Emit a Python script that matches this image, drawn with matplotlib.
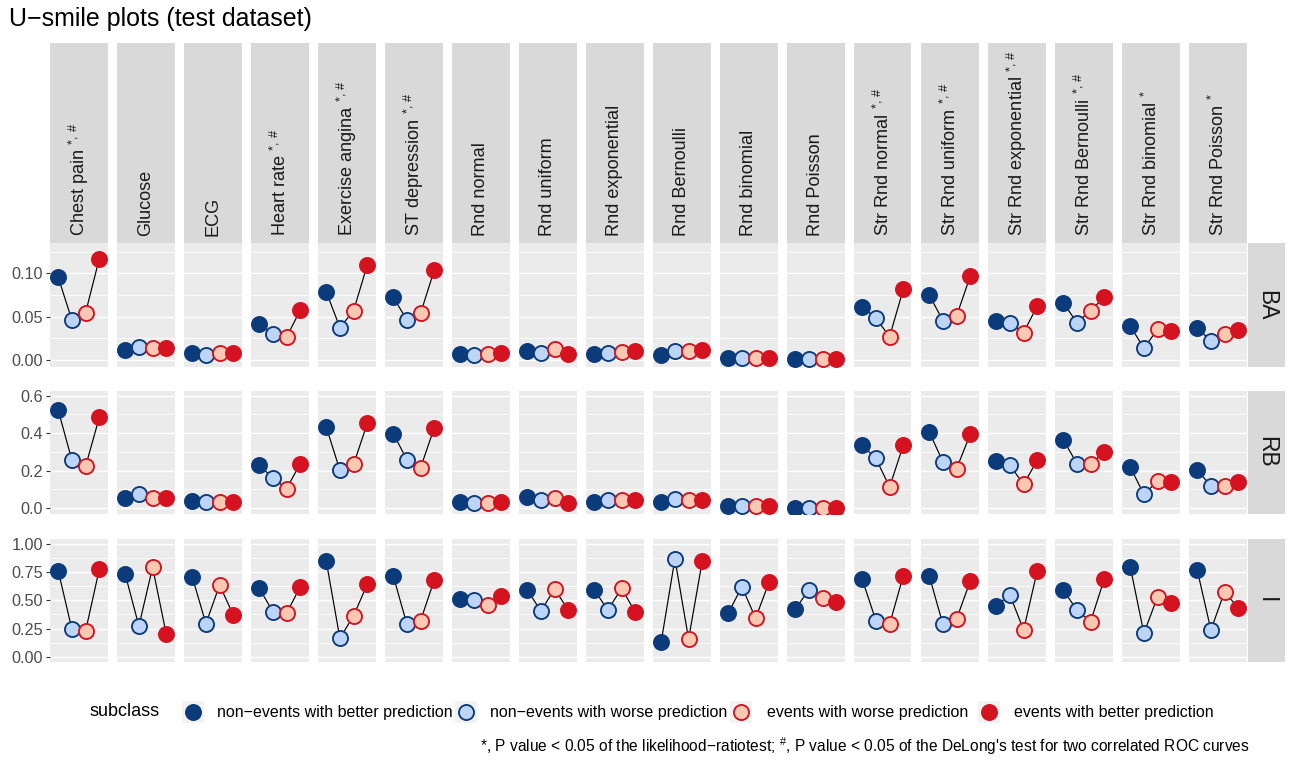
import matplotlib
matplotlib.use("Agg")
import matplotlib.pyplot as plt

plt.rcParams['font.family'] = ['Liberation Sans', 'DejaVu Sans']
plt.rcParams['mathtext.fontset'] = 'custom'
plt.rcParams['mathtext.rm'] = 'Liberation Sans'
plt.rcParams['mathtext.it'] = 'Liberation Sans:italic'
plt.rcParams['mathtext.bf'] = 'Liberation Sans:bold'

# ---- data -------------------------------------------------------------
variables = ["Chest pain", "Glucose", "ECG", "Heart rate", "Exercise angina",
             "ST depression", "Rnd normal", "Rnd uniform", "Rnd exponential",
             "Rnd Bernoulli", "Rnd binomial", "Rnd Poisson", "Str Rnd normal",
             "Str Rnd uniform", "Str Rnd exponential", "Str Rnd Bernoulli",
             "Str Rnd binomial", "Str Rnd Poisson"]
# significance marks: "*" likelihood-ratio test, "#" DeLong's test
significance = ["*,#", "", "", "*,#", "*,#", "*,#", "", "", "", "", "", "",
                "*,#", "*,#", "*,#", "*,#", "*", "*"]

subclasses = ["non\u2212events with better prediction",
              "non\u2212events with worse prediction",
              "events with worse prediction",
              "events with better prediction"]

# each row: [non-events better, non-events worse, events worse, events better]
ba_values = [
    [0.0955, 0.0460, 0.0546, 0.1170],
    [0.0115, 0.0146, 0.0135, 0.0135],
    [0.0077, 0.0058, 0.0085, 0.0085],
    [0.0416, 0.0296, 0.0262, 0.0577],
    [0.0789, 0.0373, 0.0570, 0.1097],
    [0.0724, 0.0462, 0.0539, 0.1039],
    [0.0066, 0.0058, 0.0070, 0.0077],
    [0.0108, 0.0077, 0.0131, 0.0070],
    [0.0070, 0.0085, 0.0092, 0.0108],
    [0.0058, 0.0100, 0.0108, 0.0116],
    [0.0020, 0.0020, 0.0018, 0.0020],
    [0.0012, 0.0012, 0.0010, 0.0012],
    [0.0616, 0.0481, 0.0269, 0.0816],
    [0.0751, 0.0454, 0.0508, 0.0970],
    [0.0454, 0.0424, 0.0316, 0.0624],
    [0.0662, 0.0431, 0.0570, 0.0724],
    [0.0393, 0.0135, 0.0354, 0.0339],
    [0.0366, 0.0223, 0.0300, 0.0347],
]
rb_values = [
    [0.523, 0.256, 0.223, 0.484],
    [0.056, 0.073, 0.056, 0.052],
    [0.038, 0.032, 0.034, 0.034],
    [0.229, 0.161, 0.104, 0.238],
    [0.434, 0.202, 0.234, 0.452],
    [0.398, 0.259, 0.216, 0.429],
    [0.032, 0.027, 0.027, 0.032],
    [0.059, 0.041, 0.056, 0.027],
    [0.032, 0.045, 0.041, 0.045],
    [0.032, 0.050, 0.045, 0.045],
    [0.009, 0.009, 0.009, 0.009],
    [0.002, 0.002, 0.002, 0.002],
    [0.336, 0.265, 0.113, 0.336],
    [0.407, 0.247, 0.211, 0.395],
    [0.252, 0.229, 0.127, 0.256],
    [0.366, 0.238, 0.234, 0.300],
    [0.220, 0.073, 0.145, 0.139],
    [0.204, 0.118, 0.120, 0.140],
]
i_values = [
    [0.763, 0.243, 0.228, 0.775],
    [0.731, 0.272, 0.793, 0.199],
    [0.710, 0.293, 0.636, 0.370],
    [0.607, 0.400, 0.385, 0.621],
    [0.849, 0.163, 0.364, 0.642],
    [0.719, 0.287, 0.320, 0.681],
    [0.512, 0.500, 0.459, 0.541],
    [0.592, 0.405, 0.601, 0.414],
    [0.592, 0.414, 0.607, 0.394],
    [0.133, 0.867, 0.157, 0.849],
    [0.385, 0.621, 0.341, 0.666],
    [0.423, 0.592, 0.518, 0.488],
    [0.687, 0.320, 0.287, 0.719],
    [0.719, 0.287, 0.335, 0.672],
    [0.453, 0.548, 0.237, 0.763],
    [0.592, 0.414, 0.311, 0.690],
    [0.799, 0.207, 0.533, 0.474],
    [0.770, 0.237, 0.577, 0.430],
]
metrics = ["BA", "RB", "I"]
metric_values = [ba_values, rb_values, i_values]

# ---- styling ----------------------------------------------------------
NAVY = "#0B3B7B"
LIGHTBLUE = "#BCD4F5"
PINK = "#F8C8B2"
RED = "#D5121F"
fills = [NAVY, LIGHTBLUE, PINK, RED]
edges = [NAVY, NAVY, RED, RED]

PANEL_BG = "#EBEBEB"
STRIP_BG = "#D9D9D9"

row_limits = [(-0.0082, 0.1351), (-0.0284, 0.625), (-0.047, 1.044)]
row_major = [[0.0, 0.05, 0.10], [0.0, 0.2, 0.4, 0.6],
             [0.0, 0.25, 0.5, 0.75, 1.0]]
row_minor = [[0.025, 0.075, 0.125], [0.1, 0.3, 0.5],
             [0.125, 0.375, 0.625, 0.875]]
row_fmt = ["{:.2f}", "{:.1f}", "{:.2f}"]

W, H = 1290, 768
fig = plt.figure(figsize=(W / 100, H / 100), dpi=100)


def px_axes(x0, y0, w, h):
    return fig.add_axes([x0 / W, 1 - (y0 + h) / H, w / W, h / H])


col_left0, col_step, col_w = 50.0, 67.0, 57.5
rows_px = [(243, 367), (391, 513.5), (539, 662)]
strip_top, strip_bot = 42.5, 243

marker_s = 118
x_pos = [1, 2, 3, 4]

for r, (metric, vals) in enumerate(zip(metrics, metric_values)):
    y0, y1 = rows_px[r]
    for c in range(len(variables)):
        ax = px_axes(col_left0 + c * col_step, y0, col_w, y1 - y0)
        ax.set_facecolor(PANEL_BG)
        for s in ax.spines.values():
            s.set_visible(False)
        ax.set_xlim(0.4, 4.6)
        ax.set_ylim(*row_limits[r])
        ax.set_xticks([])
        ax.set_yticks(row_major[r])
        ax.set_yticks(row_minor[r], minor=True)
        ax.grid(True, which="major", axis="y", color="white", lw=1.05)
        ax.grid(True, which="minor", axis="y", color="white", lw=0.55)
        ax.set_axisbelow(True)
        ax.tick_params(axis="y", which="minor", length=0)
        if c == 0:
            ax.set_yticklabels([row_fmt[r].format(v) for v in row_major[r]])
            ax.tick_params(axis="y", which="major", length=3.2, width=0.8,
                           color="#333333", labelcolor="#4D4D4D",
                           labelsize=11.7, pad=2)
        else:
            ax.tick_params(axis="y", which="major", length=0,
                           labelleft=False)
        ys = vals[c]
        ax.plot(x_pos, ys, color="black", lw=0.85, zorder=2)
        for k in range(4):
            ax.scatter([x_pos[k]], [ys[k]], s=marker_s, c=fills[k],
                       edgecolors=edges[k], linewidths=1.35, zorder=3)

    # row strip on the right
    sax = px_axes(1247.5, y0, 37.5, y1 - y0)
    sax.set_facecolor(STRIP_BG)
    sax.set_xticks([]); sax.set_yticks([])
    for s in sax.spines.values():
        s.set_visible(False)
    sax.text(0.5, 0.5, metric, rotation=-90, ha="center", va="center",
             fontsize=16.5, color="#1A1A1A", transform=sax.transAxes)

# column strips on top
for c, (name, sig) in enumerate(zip(variables, significance)):
    sax = px_axes(col_left0 + c * col_step, strip_top, col_w,
                  strip_bot - strip_top)
    sax.set_facecolor(STRIP_BG)
    sax.set_xticks([]); sax.set_yticks([])
    for s in sax.spines.values():
        s.set_visible(False)
    if sig == "*,#":
        label = name + r" $^{\mathrm{*},\,\#}$"
    elif sig == "*":
        label = name + r" $^{\mathrm{*}}$"
    else:
        label = name
    sax.text(0.5, 0.035, label, rotation=90, ha="center", va="bottom",
             fontsize=13.1, color="#1A1A1A", transform=sax.transAxes,
             rotation_mode="default")

# title
fig.text(9 / W, 1 - 19 / H, "U\u2212smile plots (test dataset)",
         fontsize=18, va="center", ha="left", color="black")

# legend
leg_y = 712
fig.text(89 / W, 1 - leg_y / H, "subclass", fontsize=13, va="center",
         ha="left", color="black")
key_x = [193, 466, 741, 989]
label_x = [217, 490, 767, 1014]
for k in range(4):
    kax = px_axes(key_x[k] - 11, leg_y - 11, 22, 22)
    kax.set_facecolor("#F2F2F2")
    kax.set_xticks([]); kax.set_yticks([])
    for s in kax.spines.values():
        s.set_visible(False)
    kax.set_xlim(-1, 1); kax.set_ylim(-1, 1)
    kax.scatter([0], [0], s=marker_s, c=fills[k], edgecolors=edges[k],
                linewidths=1.35)
    fig.text(label_x[k] / W, 1 - leg_y / H, subclasses[k], fontsize=11.5,
             va="center", ha="left", color="black")

# footnote
fig.text(1250 / W, 1 - 746 / H,
         r"*, P value < 0.05 of the likelihood$\mathrm{-}$ratiotest; "
         r"$^{\#}$, P value < 0.05 of the DeLong's test for two correlated ROC curves",
         fontsize=11.2, va="center", ha="right", color="black")

fig.savefig("out.png", dpi=100)
